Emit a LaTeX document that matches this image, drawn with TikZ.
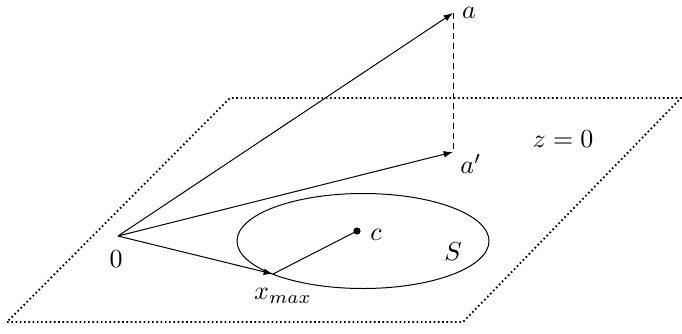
\documentclass[tikz,border=0pt]{standalone}
\usetikzlibrary{arrows.meta}
\newcommand{\biglbl}[1]{\scalebox{1.95}{$#1$}}
\begin{document}
\begin{tikzpicture}[x=0.75pt,y=-0.75pt,
  vec/.style={line width=0.75pt,-{Latex[length=7pt,width=5pt]}},
  seg/.style={line width=0.75pt},
  plane/.style={line width=1.4pt,dash pattern=on 1.2pt off 2pt},
  proj/.style={line width=0.65pt,dash pattern=on 4.5pt off 3pt},
  lbl/.style={inner sep=0pt}]
\useasboundingbox (0,0) rectangle (682,333);
\draw[plane] (7,322) -- (463,322) -- (681,98) -- (230,98) -- cycle;
\coordinate (O) at (118,236);
\coordinate (A) at (453,13);
\coordinate (Ap) at (453,152);
\coordinate (X) at (273,274);
\coordinate (C) at (357,231);
\draw[seg] (363,241) ellipse [x radius=126, y radius=47.5];
\draw[vec] (O) -- (A);
\draw[vec] (O) -- (Ap);
\draw[proj] (A) -- (Ap);
\draw[seg] (C) -- (X);
\draw[vec] (O) -- (X);
\fill (C) circle (3.6);
\node[lbl] (l0) at (116,259) {\biglbl{0}};
\node[lbl] (la) at (469,13) {\biglbl{a}};
\node[lbl] (lap) at (471,164) {\biglbl{a'}};
\node[lbl] (lx) at (283,296) {\biglbl{x_{max}}};
\node[lbl] (lc) at (376,235) {\biglbl{c}};
\node[lbl] (lS) at (453,252) {\biglbl{S}};
\node[lbl] (lz) at (563,139) {\biglbl{z=0}};
\end{tikzpicture}
\end{document}
